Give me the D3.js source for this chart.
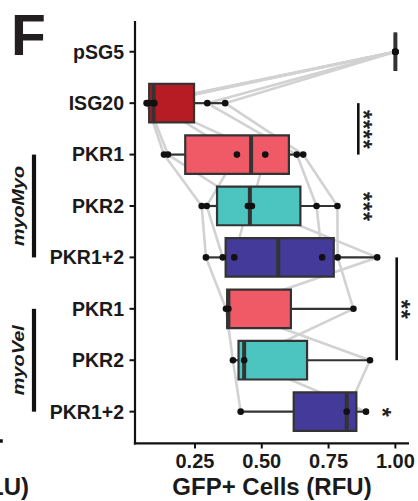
<!DOCTYPE html>
<html><head><meta charset="utf-8">
<script src="https://cdn.jsdelivr.net/npm/d3@7"></script>
<style>body{margin:0;background:#fff}svg{display:block}</style>
</head><body><svg id="c" width="418" height="501"></svg>
<script>
// ---- data ----
const categories = ["pSG5","ISG20","PKR1_myo","PKR2_myo","PKR12_myo","PKR1_vel","PKR2_vel","PKR12_vel"];
const tickLabels = ["pSG5","ISG20","PKR1","PKR2","PKR1+2","PKR1","PKR2","PKR1+2"];
const replicates = ["A","B","C","D","E","F"];
const pSG5     = [1, 1, 1, 1, 1, 1];
const isg20    = [0.069, 0.092, 0.363, 0.074, 0.098, 0.296];
const pkr1Myo  = [0.134, 0.513, 0.655, 0.149, 0.407, 0.631];
const pkr2Myo  = [0.275, 0.463, 0.783, 0.448, 0.294, 0.705];
const pkr12Myo = [0.291, 0.932, 0.784, 0.397, 0.354, 0.726];
const pkr1Vel  = [0.366, 0.375, 0.843, null, null, null];
const pkr2Vel  = [0.392, 0.905, 0.434, null, null, null];
const pkr12Vel = [0.421, 0.818, 0.890, null, null, null];
const xTicks = [0.25, 0.50, 0.75, 1.00];
const fills = ["#9e9e9e","#b71c24","#f05a66","#4cc4bf","#433a99","#f05a66","#4cc4bf","#433a99"];
const sigLabels = ["****","***","**","*"];
const sigFrom   = ["ISG20","PKR2_myo","PKR12_myo","PKR12_vel"];
const sigTo     = ["PKR1_myo",null,"PKR2_vel",null];
const groupLabels = ["myoMyo","myoVel"];
const groupFrom   = ["PKR1_myo","PKR1_vel"];
const groupTo     = ["PKR12_myo","PKR12_vel"];
const xTitle = "GFP+ Cells (RFU)";
const panelLetter = "F";
const neighbourFragment = "LU)";

const series = [pSG5, isg20, pkr1Myo, pkr2Myo, pkr12Myo, pkr1Vel, pkr2Vel, pkr12Vel];

// ---- layout ----
const svg = d3.select("#c");
const FONT = "'Liberation Sans', Arial, Helvetica, sans-serif";
const x = d3.scaleLinear().domain([0.0255, 1.051]).range([135, 409]);
const y = d3.scalePoint().domain(categories).range([20.9, 442.5]).padding(0.6);
const boxH = y.step() * 0.75;
const dark = "#333333";

// stats
const stats = categories.map((c, i) => {
  const v = series[i].filter(d => d != null).sort(d3.ascending);
  const q1 = d3.quantile(v, 0.25), med = d3.quantile(v, 0.5), q3 = d3.quantile(v, 0.75);
  const iqr = q3 - q1;
  const lo = d3.min(v.filter(d => d >= q1 - 1.5 * iqr));
  const hi = d3.max(v.filter(d => d <= q3 + 1.5 * iqr));
  return {c, q1, med, q3, lo, hi, fill: fills[i]};
});

// paired lines
const line = d3.line().defined(d => d.v != null).x(d => x(d.v)).y(d => y(d.c));
replicates.forEach((r, j) => {
  const pts = categories.map((c, i) => ({c, v: series[i][j]}));
  svg.append("path").attr("d", line(pts)).attr("fill", "none")
    .attr("stroke", "#d2d2d2").attr("stroke-width", 2.6).attr("stroke-linejoin", "round");
});

// boxes
const g = svg.append("g");
stats.forEach(s => {
  const cy = y(s.c);
  g.append("line").attr("x1", x(s.lo)).attr("x2", x(s.q1)).attr("y1", cy).attr("y2", cy)
    .attr("stroke", dark).attr("stroke-width", 2.2);
  g.append("line").attr("x1", x(s.q3)).attr("x2", x(s.hi)).attr("y1", cy).attr("y2", cy)
    .attr("stroke", dark).attr("stroke-width", 2.2);
  const p = d3.path();
  p.rect(x(s.q1), cy - boxH / 2, x(s.q3) - x(s.q1), boxH);
  g.append("path").attr("d", p.toString()).attr("fill", s.fill)
    .attr("stroke", dark).attr("stroke-width", 2.2);
  g.append("line").attr("x1", x(s.med)).attr("x2", x(s.med))
    .attr("y1", cy - boxH / 2).attr("y2", cy + boxH / 2)
    .attr("stroke", dark).attr("stroke-width", 4);
});

// points
categories.forEach((c, i) => {
  series[i].forEach(v => {
    if (v == null) return;
    svg.append("circle").attr("cx", x(v)).attr("cy", y(c)).attr("r", 3.3).attr("fill", "#111");
  });
});

// axes
const axisCol = "#111";
svg.append("line").attr("x1", 135).attr("x2", 135).attr("y1", 20.9).attr("y2", 444.4)
  .attr("stroke", axisCol).attr("stroke-width", 2.2);
svg.append("line").attr("x1", 133.9).attr("x2", 409).attr("y1", 443.3).attr("y2", 443.3)
  .attr("stroke", axisCol).attr("stroke-width", 2.2);
categories.forEach((c, i) => {
  svg.append("line").attr("x1", 129.5).attr("x2", 135).attr("y1", y(c)).attr("y2", y(c))
    .attr("stroke", axisCol).attr("stroke-width", 2);
  svg.append("text").attr("x", 124).attr("y", y(c) + 6.9).attr("text-anchor", "end")
    .attr("font-family", FONT).attr("font-weight", "bold").attr("font-size", 19.5)
    .attr("fill", "#1a1a1a").text(tickLabels[i]);
});
xTicks.forEach(t => {
  svg.append("line").attr("x1", x(t)).attr("x2", x(t)).attr("y1", 443.3).attr("y2", 448.5)
    .attr("stroke", axisCol).attr("stroke-width", 2);
  svg.append("text").attr("x", x(t)).attr("y", 467.8).attr("text-anchor", "middle")
    .attr("font-family", FONT).attr("font-weight", "bold").attr("font-size", 20)
    .attr("fill", "#1a1a1a").text(d3.format(".2f")(t));
});
svg.append("text").attr("x", 272).attr("y", 494.5).attr("text-anchor", "middle")
  .attr("font-family", FONT).attr("font-weight", "bold").attr("font-size", 24)
  .attr("fill", "#1a1a1a").text(xTitle);

// panel letter
svg.append("text").attr("x", 11).attr("y", 55).attr("font-family", FONT)
  .attr("font-weight", "bold").attr("font-size", 57).attr("fill", "#231f20").text(panelLetter);

// neighbour panel fragments (cut by the left edge, as in the reference)
svg.append("text").attr("x", 29).attr("y", 494.5).attr("text-anchor", "end")
  .attr("font-family", FONT).attr("font-weight", "bold").attr("font-size", 24)
  .attr("fill", "#1a1a1a").text(neighbourFragment);
svg.append("line").attr("x1", 0).attr("x2", 2.8).attr("y1", 441).attr("y2", 441)
  .attr("stroke", axisCol).attr("stroke-width", 3.5);

// group labels
groupLabels.forEach((lab, i) => {
  const y0 = y(groupFrom[i]), y1 = y(groupTo[i]);
  svg.append("line").attr("x1", 34).attr("x2", 34).attr("y1", y0).attr("y2", y1)
    .attr("stroke", "#111").attr("stroke-width", 4.2);
  const cy = (y0 + y1) / 2;
  const len = lab === "myoMyo" ? 80 : 70;
  svg.append("text").attr("transform", `translate(24,${cy}) rotate(-90)`)
    .attr("text-anchor", "middle").attr("font-family", FONT).attr("font-weight", "bold")
    .attr("font-style", "italic").attr("font-size", 16).attr("fill", "#1a1a1a")
    .attr("textLength", len).attr("lengthAdjust", "spacingAndGlyphs").text(lab);
});

// significance
const sigBarX = [358.3, null, 396.7, null];
const sigTextX = [368.3, 368.3, 406.7, 387.3];
sigLabels.forEach((lab, i) => {
  const y0 = y(sigFrom[i]);
  const y1 = sigTo[i] ? y(sigTo[i]) : y0;
  if (sigBarX[i] != null) {
    svg.append("line").attr("x1", sigBarX[i]).attr("x2", sigBarX[i]).attr("y1", y0).attr("y2", y1)
      .attr("stroke", "#111").attr("stroke-width", 2.6);
  }
  const cy = (y0 + y1) / 2;
  svg.append("text").attr("transform", `translate(${sigTextX[i] - 13.5},${cy + 1}) rotate(90)`)
    .attr("text-anchor", "middle").attr("font-family", FONT).attr("font-weight", "bold")
    .attr("font-size", 23).attr("letter-spacing", 1).attr("fill", "#222").text(lab);
});
</script></body></html>
